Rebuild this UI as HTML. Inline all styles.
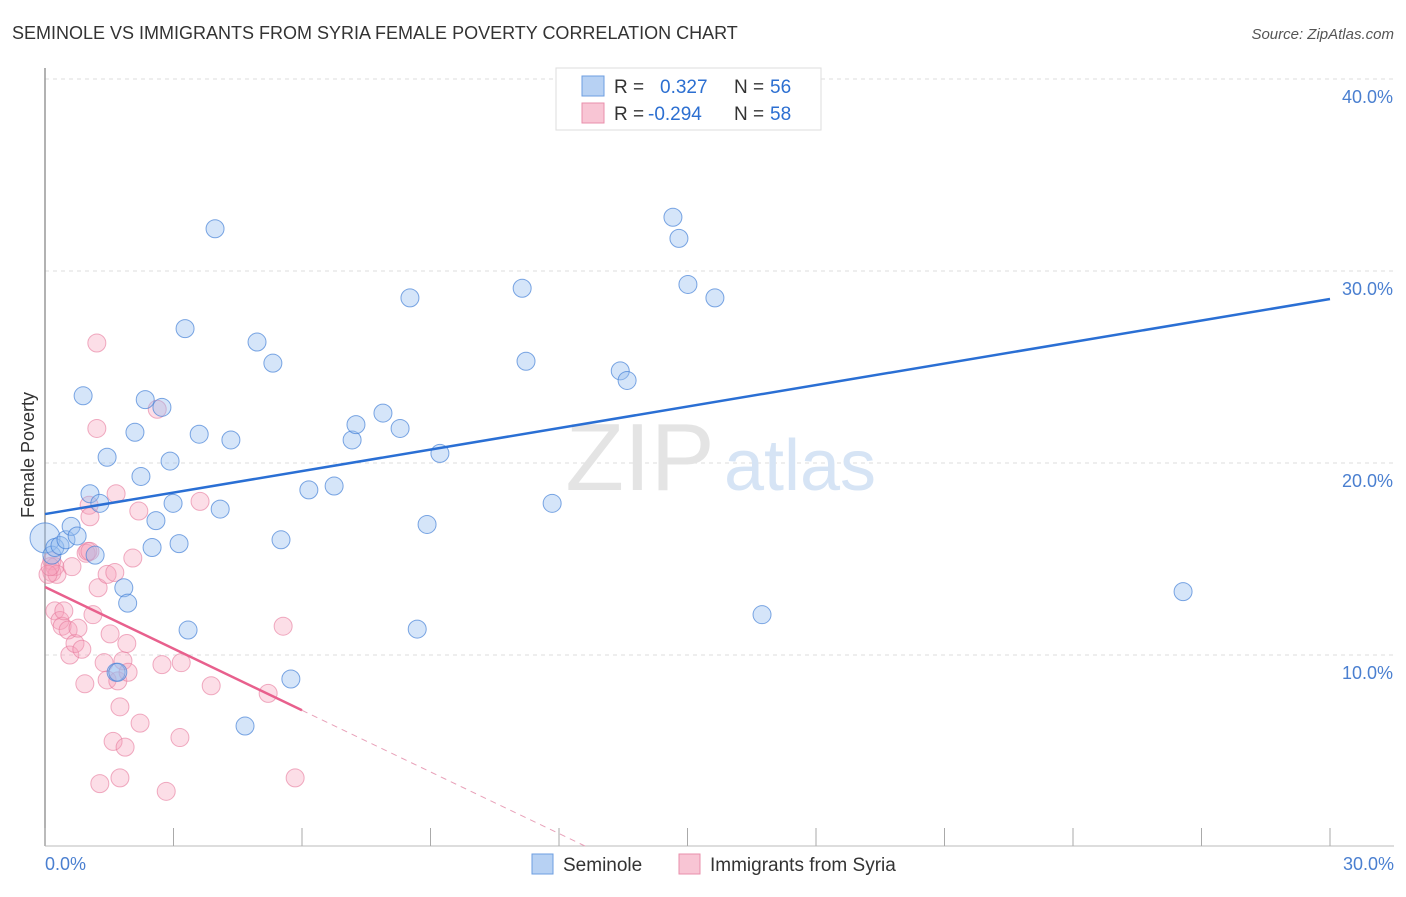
<!DOCTYPE html>
<html><head><meta charset="utf-8"><style>
body{margin:0;background:#fff;font-family:"Liberation Sans",sans-serif;}
svg text{font-family:"Liberation Sans",sans-serif;}
</style></head><body>
<svg id="chart" width="1406" height="892" xmlns="http://www.w3.org/2000/svg">
<text x="12" y="39" font-size="18" fill="#333">SEMINOLE VS IMMIGRANTS FROM SYRIA FEMALE POVERTY CORRELATION CHART</text>
<text x="1394" y="39" font-size="15" fill="#555" font-style="italic" text-anchor="end">Source: ZipAtlas.com</text>
<g id="grid"></g>
<text x="640" y="490" font-size="96" fill="#e4e4e4" font-family="Liberation Serif" text-anchor="middle">ZIP</text>
<text x="800" y="490" font-size="72" fill="#d6e4f5" text-anchor="middle">atlas</text>
<g id="pts"></g>
<g id="lines"></g>
<text x="34" y="455" font-size="18" fill="#333" transform="rotate(-90 34 455)" text-anchor="middle">Female Poverty</text>
<text x="45" y="870" font-size="18" fill="#4a7fd0">0.0%</text>
<text x="1394" y="870" font-size="18" fill="#4a7fd0" text-anchor="end">30.0%</text>
<g>
<rect x="556" y="68" width="265" height="62" fill="#fff" stroke="#ddd"/>
<rect x="582" y="76" width="22" height="20" fill="#b7d1f3" stroke="#6c9ee0"/>
<rect x="582" y="103" width="22" height="20" fill="#f8c5d4" stroke="#e98fab"/>
<text x="614" y="93" font-size="19" fill="#333">R = </text><text x="660" y="93" font-size="19" fill="#2c6fd1">0.327</text>
<text x="734" y="93" font-size="19" fill="#333">N = </text><text x="770" y="93" font-size="19" fill="#2c6fd1">56</text>
<text x="614" y="120" font-size="19" fill="#333">R = </text><text x="648" y="120" font-size="19" fill="#2c6fd1">-0.294</text>
<text x="734" y="120" font-size="19" fill="#333">N = </text><text x="770" y="120" font-size="19" fill="#2c6fd1">58</text>
</g>
<g>
<rect x="532" y="854" width="21" height="20" fill="#b7d1f3" stroke="#6c9ee0"/>
<text x="563" y="871" font-size="19" fill="#333">Seminole</text>
<rect x="679" y="854" width="21" height="20" fill="#f8c5d4" stroke="#e98fab"/>
<text x="710" y="871" font-size="19" fill="#333">Immigrants from Syria</text>
</g>
</svg>
<script>
const yTicks=[10,20,30,40];
const yTickLabels=["10.0%","20.0%","30.0%","40.0%"];
const xTicks=[0,3,6,9,12,15,18,21,24,27,30];
const blueX=[0,0.16,0.23,0.35,0.49,0.61,0.75,0.89,1.05,1.17,1.28,1.45,1.66,1.70,1.84,1.93,2.10,2.24,2.34,2.50,2.59,2.73,2.92,2.99,3.13,3.27,3.34,3.60,3.97,4.09,4.34,4.67,4.95,5.32,5.51,5.74,6.16,6.75,7.17,7.26,7.89,8.29,8.52,8.69,8.92,9.22,11.14,11.23,11.84,13.43,13.59,14.66,14.80,15.01,15.64,16.74,26.57];
const blueY=[16.1,15.2,15.6,15.7,16.0,16.7,16.2,23.5,18.4,15.2,17.9,20.3,9.1,9.1,13.5,12.7,21.6,19.3,23.3,15.6,17.0,22.9,20.1,17.9,15.8,27.0,11.3,21.5,32.2,17.6,21.2,6.3,26.3,25.2,16.0,8.75,18.6,18.8,21.2,22.0,22.6,21.8,28.6,11.35,16.8,20.5,29.1,25.3,17.9,24.8,24.3,32.8,31.7,29.3,28.6,12.1,13.3];
const pinkX=[0.16,0.16,0.23,0.28,0.07,0.12,0.23,0.35,0.40,0.44,0.54,0.58,0.63,0.70,0.77,0.86,0.93,0.96,1.00,1.05,1.03,1.05,1.12,1.21,1.21,1.24,1.38,1.45,1.45,1.52,1.59,1.63,1.66,1.70,1.75,1.75,1.82,1.87,1.91,1.94,1.28,2.05,2.19,2.22,2.62,2.73,2.83,3.15,3.18,3.62,3.88,5.21,5.56,5.84];
const pinkY=[14.9,14.3,14.6,14.2,14.2,14.6,12.3,11.8,11.5,12.3,11.3,10.0,14.6,10.6,11.4,10.3,8.5,15.3,15.4,15.4,17.8,17.2,12.1,26.25,21.8,13.5,9.6,8.7,14.2,11.1,5.5,14.3,18.4,8.65,7.3,3.6,9.7,5.2,10.6,9.1,3.3,15.05,17.5,6.45,22.8,9.5,2.9,5.7,9.6,18.0,8.4,8.0,11.5,3.6];
const blueTrend=[17.34,28.54];
const pinkTrend=[13.54,-1.07];
const X0=45,X1=1330,Y0=847,PY=19.2;
const sx=v=>X0+(X1-X0)*v/30, sy=v=>Y0-v*PY;
const NS="http://www.w3.org/2000/svg";
function mk(t,a,p){const e=document.createElementNS(NS,t);for(const k in a)e.setAttribute(k,a[k]);p.appendChild(e);return e;}
const grid=document.getElementById('grid');
yTicks.forEach((t,i)=>{
 const l=mk('line',{x1:45,x2:1394,y1:sy(t),y2:sy(t),stroke:'#ddd','stroke-dasharray':'4,4'},grid);
 
 
 const tx=mk('text',{x:1393,y:sy(t)+24,'font-size':18,fill:'#4a7fd0','text-anchor':'end'},grid);
 tx.textContent=yTickLabels[i];
 
 
});
const ax=mk('line',{x1:45,x2:45,y1:68,y2:846,stroke:'#999','stroke-width':1.5},grid);


const bx=mk('line',{x1:45,x2:1394,y1:846,y2:846,stroke:'#bbb'},grid);


xTicks.forEach(t=>{const l=mk('line',{x1:sx(t),x2:sx(t),y1:828,y2:846,stroke:'#aaa'},grid);
 
 });
const pts=document.getElementById('pts');
pinkX.forEach((x,i)=>{const c=mk('circle',{cx:sx(x),cy:sy(pinkY[i]),r:9,fill:'rgba(245,160,185,0.35)',stroke:'rgba(230,120,155,0.6)'},pts);
 
 });
blueX.forEach((x,i)=>{const c=mk('circle',{cx:sx(x),cy:sy(blueY[i]),r:i===0?15:9,fill:'rgba(150,190,240,0.4)',stroke:'rgba(70,130,215,0.7)'},pts);
 
 });
const lines=document.getElementById('lines');
const bl=mk('line',{x1:sx(0),y1:sy(blueTrend[0]),x2:sx(30),y2:sy(blueTrend[1]),stroke:'#2a6fd4','stroke-width':2.5},lines);


const pe=6.0, pz=pinkTrend[0]/-pinkTrend[1];
const pl=mk('line',{x1:sx(0),y1:sy(pinkTrend[0]),x2:sx(pe),y2:sy(pinkTrend[0]+pinkTrend[1]*pe),stroke:'#e8608d','stroke-width':2.5},lines);


const pd=mk('line',{x1:sx(pe),y1:sy(pinkTrend[0]+pinkTrend[1]*pe),x2:sx(pz),y2:sy(0),stroke:'#e8a0b8','stroke-width':1,'stroke-dasharray':'6,5'},lines);


</script>
</body></html>
